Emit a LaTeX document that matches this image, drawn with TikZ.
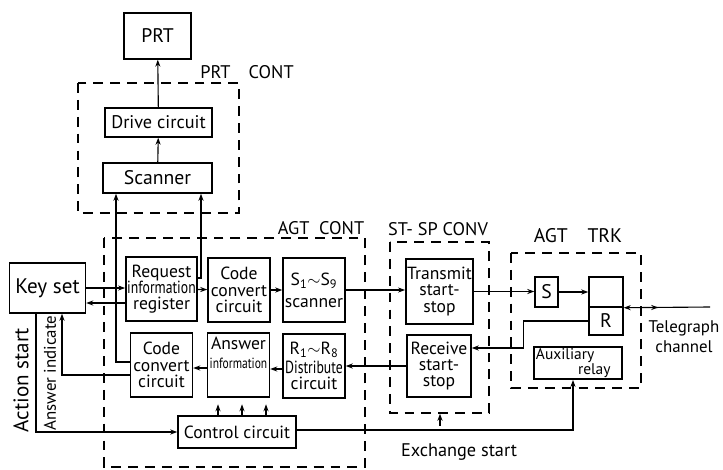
\documentclass[tikz,border=0pt]{standalone}
\usepackage{fontspec}
\setsansfont{PT Sans}
\usepackage{graphicx}
\usetikzlibrary{arrows.meta, calc, decorations.markings}
\newcommand{\squeeze}[1]{\scalebox{0.78}[1]{#1}}
\newcommand{\fsz}[1]{\fontsize{#1}{#1}\selectfont}

\begin{document}
\begin{tikzpicture}[x=0.025cm, y=-0.025cm, font=\sffamily, >={Stealth[length=5pt,width=3.6pt]},
    box/.style={draw=black, line width=1pt, inner sep=1pt, align=center, font=\sffamily\fontsize{12.5}{11.5}\selectfont},
    blk/.style={box, minimum width=1.55cm, minimum height=1.6cm},
    group/.style={draw=black, line width=1pt, dash pattern=on 7pt off 5pt},
    grouplabel/.style={font=\sffamily\fsz{13}},
    link/.style={->, line width=0.8pt}]
    \useasboundingbox (0,0) rectangle (723,469);

    % Group frames
    \draw[group] (78,83) rectangle (239,213);
    \node[grouplabel] (prtcontlbl) at (247,72) {PRT\quad CONT};
    \draw[group] (104,238) rectangle (365,467);
    \node[grouplabel] (agtcontlbl) at (321,228) {AGT\ \ CONT};
    \draw[group] (390,242) rectangle (489,413);
    \node[grouplabel] (stsplbl) at (438,229) {ST- SP CONV};
    \draw[group] (511,253) rectangle (641,388);
    \node[grouplabel, font=\sffamily\fsz{14}] (agttrklbl) at (578,236) {AGT\quad TRK};

    % Printer side
    \node[box, minimum width=1.675cm, minimum height=1.15cm, font=\sffamily\fsz{14}] (prt) at (157.5,36) {PRT};
    \node[box, minimum width=2.675cm, minimum height=0.725cm, font=\sffamily\fsz{13}] (drive) at (158.5,122.5) {Drive circuit};
    \node[box, minimum width=2.725cm, minimum height=0.75cm, font=\sffamily\fsz{14}] (scan) at (157.5,178) {Scanner};

    % Key set and AGT CONT blocks
    \node[box, minimum width=1.9cm, minimum height=1.25cm, font=\sffamily\fsz{15}] (keyset) at (47.5,288) {Key set};
    \node[blk] (reqreg) at (161.5,289) {Request\\\squeeze{information}\\register};
    \node[blk] (ccA) at (239,290) {Code\\convert\\circuit};
    \node[blk] (sscan) at (314,290) {S\textsubscript{1}$\sim$S\textsubscript{9}\\[4pt]scanner};
    \node[blk] (ccB) at (161.5,365) {Code\\convert\\circuit};
    \node[blk] (ansinf) at (238.5,365) {Answer\\[2pt]\squeeze{\fsz{10.5}information}\\[6pt]};
    \node[blk] (distr) at (314,366) {R\textsubscript{1}$\sim$R\textsubscript{8}\\[2pt]\squeeze{Distribute}\\circuit};
    \node[box, minimum width=2.95cm, minimum height=0.8cm, font=\sffamily\fsz{12.5}] (ctrl) at (237,432) {Control circuit};

    % ST-SP CONV and AGT TRK blocks
    \node[box, minimum width=1.625cm, minimum height=1.625cm] (tss) at (439.5,291.5) {Transmit\\start-\\stop};
    \node[box, minimum width=1.6cm, minimum height=1.55cm] (rss) at (439,366) {Receive\\start-\\stop};
    \node[box, minimum width=0.575cm, minimum height=0.75cm, font=\sffamily\fsz{14}] (sbox) at (546.5,292) {S};
    \node[box, minimum width=0.85cm, minimum height=0.75cm] (rtop) at (606,292) {};
    \node[box, minimum width=0.85cm, minimum height=0.7cm, font=\sffamily\fsz{14}] (rbot) at (606,321) {R};
    \node[box, minimum width=2.2cm, minimum height=0.7cm, text width=2.1cm, align=left, font=\sffamily\fontsize{11}{9.5}\selectfont] (aux) at (578,363) {Auxiliary\\\hspace*{1.05cm}relay};
    \coordinate (tel) at (710,307);

    % Free labels
    \node[rotate=90, font=\sffamily\fsz{15}] (actstart) at (21,380) {Action start};
    \node[rotate=90, font=\sffamily\fsz{12}] (ansind) at (50,373) {Answer indicate};
    \node[font=\sffamily\fsz{13}] (exstart) at (459,452) {Exchange start};
    \node[align=center, font=\sffamily\fontsize{12}{14}\selectfont] (telch) at (684,337) {Telegraph\\channel};

    % Connector ends
    \coordinate (regback) at ($(reqreg.west)+(0,14)$);
    \coordinate (distrout) at ($(distr.west)+(0,3)$);
    \coordinate (ansout) at ($(ansinf.west)+(0,3)$);
    \coordinate (rssin) at ($(rss.east)+(0,-18)$);

    % Paths
    \draw[link] (drive) -- (prt);
    \draw[link] (scan) -- (drive);
    \draw[link] ($(ccB.west)+(0,-3)$) -| ($(scan.south)+(-41.5,0)$);
    \draw[link] ($(reqreg.east)+(0,-11)$) -| ($(scan.south)+(43.5,0)$);
    \draw[link] (keyset.east) -- (keyset.east -| reqreg.west);
    \draw[link] (regback) -- (regback -| keyset.east);
    \draw[link] (reqreg) -- (ccA);
    \draw[link] (ccA) -- (sscan);
    \draw[link] (sscan.east) -- (sscan.east -| tss.west);
    \draw[link] (tss.east) -- (tss.east -| sbox.west);
    \draw[link] (sbox.east) -- (sbox.east -| rtop.west);
    \draw[<-, line width=0.8pt, postaction={decorate},
        decoration={markings, mark=at position 0.4 with {\arrow{>}}}] (rtop.south east) -- (tel);
    \draw[link] (rbot.west) -- ++(-65,0) |- (rssin);
    \draw[link] (rss.west) -- (rss.west -| distr.east);
    \draw[link] (distrout) -- (distrout -| ansinf.east);
    \draw[link] (ansout) -- (ansout -| ccB.east);
    \draw[link] ($(ccB.west)+(0,10)$) -| ($(keyset.south)+(14.5,0)$);
    \draw[link] ($(keyset.south)+(-11.5,0)$) |- (ctrl.west);
    \foreach \dx in {-19,5,29}
        \draw[link] ($(ctrl.north)+(\dx,0)$) -- ++(0,-11);
    \draw[link] ($(ctrl.east)+(0,-2)$) -| ($(aux.south)+(-5,0)$);
    \draw[link] ($(rss.south)+(1,28)$) -- ++(0,-12);
\end{tikzpicture}
\end{document}
